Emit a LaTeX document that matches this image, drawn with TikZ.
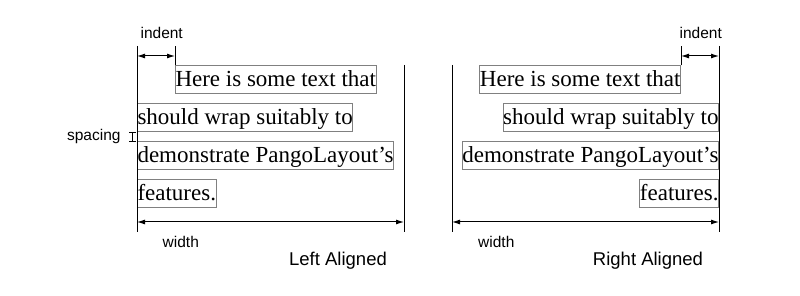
\documentclass[tikz,border=0pt]{standalone}
\usepackage{fontspec}
\setmainfont{Liberation Serif}
\setsansfont{Liberation Sans}
\usetikzlibrary{arrows.meta, calc, positioning}

\tikzset{
    textline/.style={draw=black!50, inner sep=0pt, text height=21pt, text depth=7pt, font=\fontsize{23}{23}\selectfont},
    dimline/.style={{Latex[length=8pt,width=5pt]}-{Latex[length=8pt,width=5pt]}},
    tag/.style={font=\sffamily\fontsize{15.5}{15.5}\selectfont, inner sep=0pt},
    caption/.style={font=\sffamily\fontsize{18.5}{18.5}\selectfont, inner sep=0pt}
}

\begin{document}
\begin{tikzpicture}[x=1pt, y=-1pt, line width=1pt]
        \useasboundingbox (0,0) rectangle (800,296);

        % Left aligned lines
        \node[textline, anchor=north west] (L1) at (175,65.5) {Here is some text that};
        \node[textline, anchor=north west] (L2) at (137,103.5) {should wrap suitably to};
        \node[textline, anchor=north west] (L3) at (137,141.5) {demonstrate PangoLayout's};
        \node[textline, anchor=north west] (L4) at (137,179.5) {features.};

        % Left margins
        \coordinate (Ltop) at (137,46);
        \coordinate (Lbot) at (137,232);
        \coordinate (LRtop) at (404,65);
        \coordinate (LRbot) at (404,232);
        \draw (Ltop) -- (Lbot);
        \draw (LRtop) -- (LRbot);

        % Indent (left)
        \coordinate (Lind) at (137,56);
        \draw (L1.north west) -- (L1.north west |- Ltop);
        \draw[dimline] (Lind) -- (Lind -| L1.north west);
        \node[tag, anchor=base] (Lindent) at (161.7,39) {indent};

        % Spacing
        \draw ([xshift=-5pt]L2.south west) -- ([xshift=-5pt]L3.north west);
        \draw ([xshift=-8pt]L2.south west) -- ([xshift=-1pt]L2.south west);
        \draw ([xshift=-8pt]L3.north west) -- ([xshift=-1pt]L3.north west);
        \node[tag, anchor=base east] (spacing) at (121,141) {spacing};

        % Width (left)
        \coordinate (Lw) at (137,222);
        \draw[dimline] (Lw) -- (Lw -| LRbot);
        \node[tag, anchor=base] (Lwidth) at (180.8,247.3) {width};
        \node[caption, anchor=base] (Lcap) at (338,265.7) {Left Aligned};

        % Right aligned lines
        \node[textline, anchor=north east] (R1) at (681,65.5) {Here is some text that};
        \node[textline, anchor=north east] (R2) at (719,103.5) {should wrap suitably to};
        \node[textline, anchor=north east] (R3) at (719,141.5) {demonstrate PangoLayout's};
        \node[textline, anchor=north east] (R4) at (719,179.5) {features.};

        % Right margins
        \coordinate (RLtop) at (452,65);
        \coordinate (RLbot) at (452,232);
        \coordinate (Rtop) at (719,46);
        \coordinate (Rbot) at (719,232);
        \draw (RLtop) -- (RLbot);
        \draw (Rtop) -- (Rbot);

        % Indent (right)
        \coordinate (Rind) at (719,56);
        \draw (R1.north east) -- (R1.north east |- Rtop);
        \draw[dimline] (Rind -| R1.north east) -- (Rind);
        \node[tag, anchor=base] (Rindent) at (700.7,39) {indent};

        % Width (right)
        \coordinate (Rw) at (452,222);
        \draw[dimline] (Rw) -- (Rw -| Rbot);
        \node[tag, anchor=base] (Rwidth) at (496.3,247.3) {width};
        \node[caption, anchor=base] (Rcap) at (648,265.7) {Right Aligned};

\end{tikzpicture}
\end{document}
